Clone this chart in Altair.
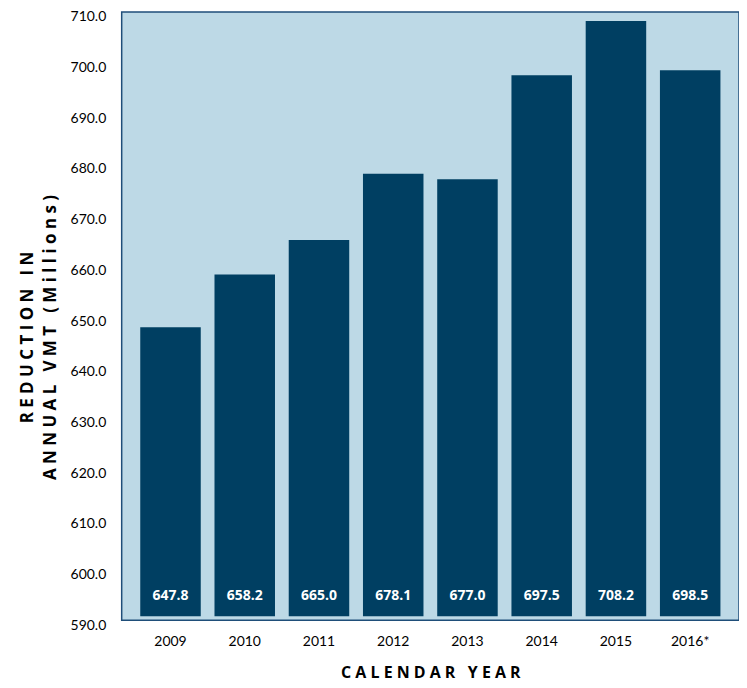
import altair as alt
import pandas as pd

years = ["2009", "2010", "2011", "2012", "2013", "2014", "2015", "2016*"]
values = [647.8, 658.2, 665.0, 678.1, 677.0, 697.5, 708.2, 698.5]
base_value = 590.8
y_ticks = [590, 600, 610, 620, 630, 640, 650, 660, 670, 680, 690, 700, 710]

NB = "\u00a0"
def spaced(words):
    return (NB * 3).join(" ".join(w) for w in words)

x_title = spaced(["CALENDAR", "YEAR"])
y_title = [spaced(["REDUCTION", "IN"]), spaced(["ANNUAL", "VMT", "(Millions)"])]

df = pd.DataFrame({"year": years, "value": values, "base": [base_value] * len(years)})

x_enc = alt.X(
    "year:N",
    sort=years,
    scale=alt.Scale(paddingInner=0.185, paddingOuter=0.25),
    axis=alt.Axis(
        title=x_title,
        titleFont="Open Sans",
        titleFontSize=16,
        titleFontWeight="bold",
        titleColor="#000000",
        titlePadding=16,
        labelFont="Lato",
        labelFontSize=14,
        labelColor="#000000",
        labelAngle=0,
        labelPadding=14,
        ticks=False,
        domain=False,
    ),
)

y_scale = alt.Scale(domain=[590, 710], nice=False, zero=False)

bars = alt.Chart(df).mark_bar(color="#003f62").encode(
    x=x_enc,
    y=alt.Y(
        "value:Q",
        scale=y_scale,
        axis=alt.Axis(
            values=y_ticks,
            format=".1f",
            grid=False,
            ticks=False,
            domain=False,
            labelFont="Lato",
            labelFontSize=14,
            labelColor="#000000",
            labelPadding=16,
            labelOffset=5,
            title=y_title,
            titleFont="Open Sans",
            titleFontSize=17,
            titleFontWeight="bold",
            titleColor="#000000",
            titleAngle=-90,
            titleX=-94,
            titleY=326,
            titleAlign="center",
            titleBaseline="middle",
            titleLineHeight=23,
        ),
    ),
    y2="base:Q",
)

labels = alt.Chart(df).mark_text(
    color="white", font="Open Sans", fontWeight="bold", fontSize=14, dy=-20, baseline="middle"
).encode(
    x=alt.X("year:N", sort=years),
    y=alt.Y("base:Q", scale=y_scale),
    text=alt.Text("value:Q", format=".1f"),
)

chart = (
    alt.layer(bars, labels)
    .properties(
        width=619,
        height=610,
        autosize=alt.AutoSizeParams(type="none"),
        padding={"left": 114, "top": 3, "right": 0, "bottom": 67},
    )
    .configure(background="white")
    .configure_view(fill="#bdd9e6", stroke="#1f4e79", strokeWidth=1.5)
)

chart.save("out.html", embed_options={"renderer": "svg", "actions": False})
